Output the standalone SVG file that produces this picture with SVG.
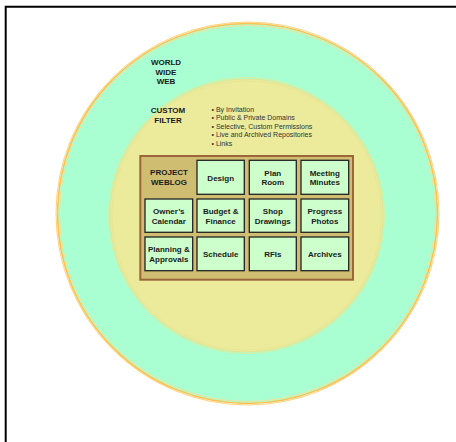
<svg xmlns="http://www.w3.org/2000/svg" width="456" height="442" viewBox="0 0 456 442">
<style>
.t{font-family:"Liberation Sans",Arial,sans-serif;font-weight:bold;font-size:8px;fill:#1a1a1a;text-anchor:middle}
.b{font-family:"Liberation Sans",Arial,sans-serif;font-size:7px;fill:#333}
.cell{fill:#CCFFCC;stroke:#222;stroke-width:1.3}
</style>
<rect width="456" height="442" fill="#fff"/>
<path d="M5.7,442 V6.8 H456" fill="none" stroke="#000" stroke-width="2"/>
<g id="world-wide-web">
<circle cx="247.5" cy="213.5" r="191.5" fill="none" stroke="#FFD27A" stroke-width="1"/>
<circle cx="247.5" cy="213.5" r="190" fill="#AAFFD2" stroke="#FFC04F" stroke-width="1.5"/>
<circle cx="247.5" cy="213.5" r="188" fill="none" stroke="#FFDA8A" stroke-width="0.8"/>
<text class="t" x="166" y="65">WORLD</text>
<text class="t" x="166" y="75">WIDE</text>
<text class="t" x="166" y="84">WEB</text>
</g>
<g id="custom-filter">
<circle cx="246.5" cy="215.5" r="138" fill="none" stroke="#D6F0A0" stroke-width="1"/>
<circle cx="246.5" cy="215.5" r="136.5" fill="#EBEB9B" stroke="#E2E496" stroke-width="1"/>
<circle cx="246.5" cy="215.5" r="134.5" fill="none" stroke="#E4E28E" stroke-width="0.6"/>
<text class="t" x="168" y="113">CUSTOM</text>
<text class="t" x="168" y="123">FILTER</text>
<text class="b" x="211.5" y="112">• By Invitation</text>
<text class="b" x="211.5" y="120">• Public &amp; Private Domains</text>
<text class="b" x="211.5" y="128.7">• Selective, Custom Permissions</text>
<text class="b" x="211.5" y="137">• Live and Archived Repositories</text>
<text class="b" x="211.5" y="145.7">• Links</text>
</g>
<g id="project-weblog">
<rect x="140.3" y="156" width="212.7" height="123.7" fill="#CFBE72" stroke="#9C6638" stroke-width="2"/>
<text class="t" x="169" y="175">PROJECT</text>
<text class="t" x="169" y="184.5">WEBLOG</text>
</g>
<g id="design"><rect class="cell" x="197" y="160.3" width="47.3" height="34"/><text class="t" x="220.7" y="181">Design</text></g>
<g id="plan-room"><rect class="cell" x="249.3" y="160.3" width="47" height="34"/><text class="t" x="272.8" y="176">Plan</text><text class="t" x="272.8" y="185">Room</text></g>
<g id="meeting-minutes"><rect class="cell" x="301" y="160.3" width="47.7" height="34"/><text class="t" x="324.8" y="176">Meeting</text><text class="t" x="324.8" y="185">Minutes</text></g>
<g id="owners-calendar"><rect class="cell" x="145" y="199" width="47.7" height="33.3"/><text class="t" x="168.8" y="214">Owner’s</text><text class="t" x="168.8" y="224">Calendar</text></g>
<g id="budget-finance"><rect class="cell" x="197" y="199" width="47.3" height="33.3"/><text class="t" x="220.7" y="214">Budget &amp;</text><text class="t" x="220.7" y="224">Finance</text></g>
<g id="shop-drawings"><rect class="cell" x="249.3" y="199" width="47" height="33.3"/><text class="t" x="272.8" y="214">Shop</text><text class="t" x="272.8" y="224">Drawings</text></g>
<g id="progress-photos"><rect class="cell" x="301" y="199" width="47.7" height="33.3"/><text class="t" x="324.8" y="214">Progress</text><text class="t" x="324.8" y="224">Photos</text></g>
<g id="planning-approvals"><rect class="cell" x="145" y="237" width="47.7" height="33.7"/><text class="t" x="168.8" y="252">Planning &amp;</text><text class="t" x="168.8" y="262">Approvals</text></g>
<g id="schedule"><rect class="cell" x="197" y="237" width="47.3" height="33.7"/><text class="t" x="220.7" y="257">Schedule</text></g>
<g id="rfis"><rect class="cell" x="249.3" y="237" width="47" height="33.7"/><text class="t" x="272.8" y="257">RFIs</text></g>
<g id="archives"><rect class="cell" x="301" y="237" width="47.7" height="33.7"/><text class="t" x="324.8" y="257">Archives</text></g>
<g id="connectors"/>
</svg>
